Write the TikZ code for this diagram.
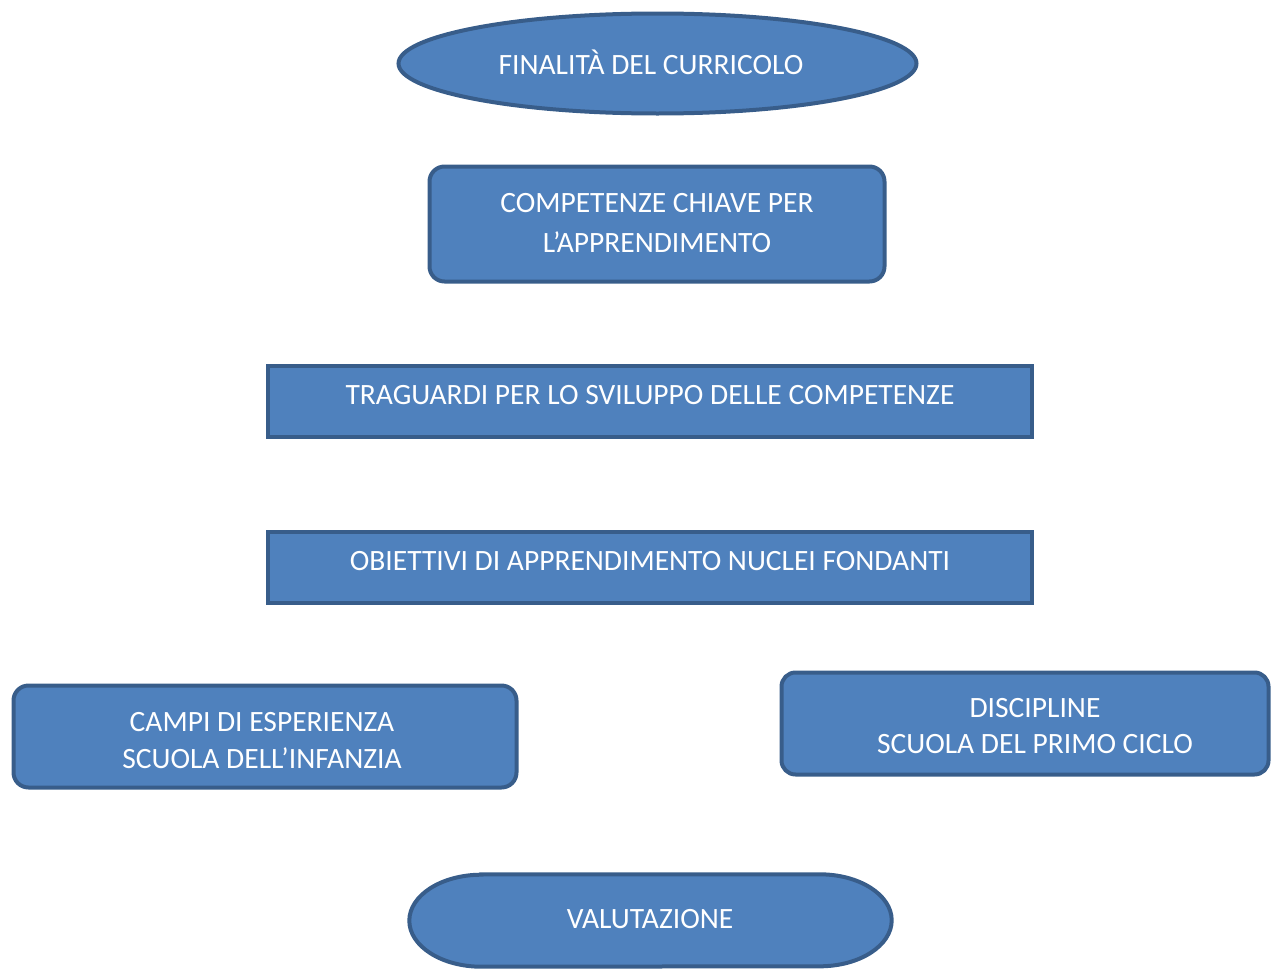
\documentclass[tikz,border=0pt]{standalone}
\usepackage{fontspec}
\setmainfont{Carlito}
\usetikzlibrary{shapes.geometric}
\definecolor{fillblue}{HTML}{4F81BD}
\definecolor{edgeblue}{HTML}{385D8A}
\tikzset{
  shp/.style={draw=edgeblue, fill=fillblue, line width=4pt, inner sep=0pt},
  txt/.style={text=white, font=\fontsize{29.5}{37}\selectfont, align=center, inner sep=0pt},
}
\begin{document}
\begin{tikzpicture}[x=1pt,y=-1pt]
\useasboundingbox (0,0) rectangle (1271,969);
\begin{scope}
\clip (0,0) rectangle (1271,969);
% shapes
\node[shp, ellipse, minimum width=518pt, minimum height=100pt] (fin) at (657.5,63.5) {};
\node[shp, rectangle, rounded corners=15pt, minimum width=455pt, minimum height=115pt] (comp) at (657,224) {};
\node[shp, rectangle, minimum width=764pt, minimum height=71pt] (trag) at (649.5,401) {};
\node[shp, rectangle, minimum width=764pt, minimum height=71pt] (obi) at (649.5,567) {};
\node[shp, rectangle, rounded corners=15pt, minimum width=503pt, minimum height=102pt] (campi) at (265,736.5) {};
\node[shp, rectangle, rounded corners=14pt, minimum width=487pt, minimum height=102pt] (disc) at (1025,723.5) {};
\node[rectangle, inner sep=0pt, minimum width=482pt, minimum height=92pt] (val) at (650.5,920.5) {};
\draw[shp] ([xshift=72pt]val.north west) -- ([xshift=-72pt]val.north east)
  arc[start angle=90, end angle=-90, x radius=72pt, y radius=46pt]
  -- ([xshift=72pt]val.south west)
  arc[start angle=270, end angle=90, x radius=72pt, y radius=46pt] -- cycle;
\end{scope}
% texts
\node[txt] (fint) at (651,62) {FINALITÀ DEL CURRICOLO};
\node[txt, font=\fontsize{29.5}{40}\selectfont] (compt) at (657,223) {COMPETENZE CHIAVE PER\\L’APPRENDIMENTO};
\node[txt] (tragt) at (650,395) {TRAGUARDI PER LO SVILUPPO DELLE COMPETENZE};
\node[txt] (obit) at (650,561) {OBIETTIVI DI APPRENDIMENTO NUCLEI FONDANTI};
\node[txt] (campit) at (262,741) {CAMPI DI ESPERIENZA\\SCUOLA DELL’INFANZIA};
\node[txt, font=\fontsize{29.5}{36}\selectfont] (disct) at (1035,726) {DISCIPLINE\\SCUOLA DEL PRIMO CICLO};
\node[txt] (valt) at (650,919) {VALUTAZIONE};
\end{tikzpicture}
\end{document}
